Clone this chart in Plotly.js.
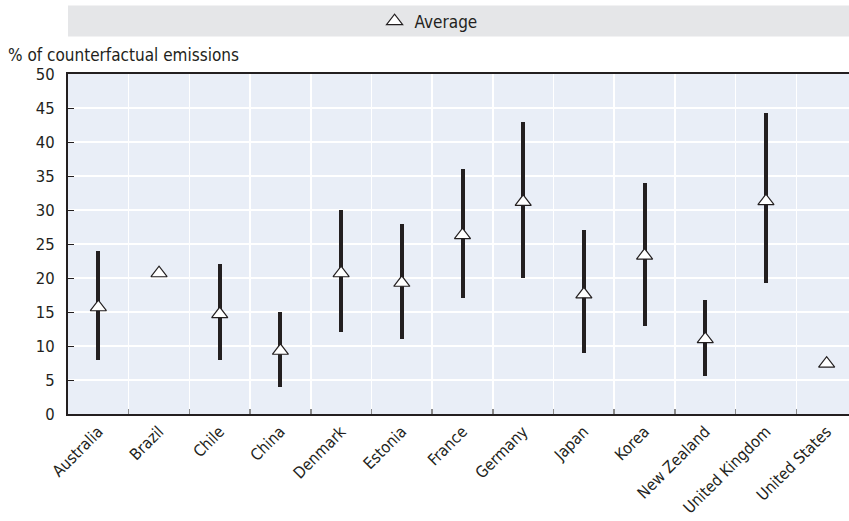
<!DOCTYPE html>
<html>
<head>
<meta charset="utf-8">
<script src="https://cdn.plot.ly/plotly-3.0.1.min.js"></script>
<style>
  html, body { margin: 0; padding: 0; overflow: hidden; background: #ffffff; }
  #chart { width: 857px; height: 521px; }
  /* narrow lettering for every chart label */
  text { font-stretch: condensed; }
</style>
</head>
<body>
<div id="chart"></div>
<script>
// Countries on the horizontal axis
const countries = ["Australia", "Brazil", "Chile", "China", "Denmark", "Estonia", "France",
  "Germany", "Japan", "Korea", "New Zealand", "United Kingdom", "United States"];

// Average abatement, % of counterfactual emissions
const average = [15.7, 20.7, 14.7, 9.3, 20.7, 19.3, 26.3, 31.2, 17.6, 23.3, 11.0, 31.3, 7.4];

// Range of estimates (null where only the average is available)
const rangeLow  = [8, null, 8, 4, 12, 11, 17, 20, 9, 13, 5.6, 19.2, null];
const rangeHigh = [24, null, 22, 15, 30, 28, 36, 43, 27, 34, 16.8, 44.2, null];

// Y-axis ticks
const yTicks = [0, 5, 10, 15, 20, 25, 30, 35, 40, 45, 50];

const ink = "#231f20";
const fontFamily = "'DejaVu Sans Condensed', 'Liberation Sans Narrow', 'DejaVu Sans', sans-serif";

// Range bars: floating bars from low to high
const rangeTrace = {
  type: "bar",
  x: countries,
  base: rangeLow,
  y: rangeHigh.map((h, i) => (h === null || rangeLow[i] === null) ? null : h - rangeLow[i]),
  width: 0.066,
  marker: { color: ink, line: { width: 0 } },
  showlegend: false,
  hoverinfo: "skip"
};

// Average markers
const avgTrace = {
  type: "scatter",
  mode: "markers",
  name: "Average",
  x: countries,
  y: average,
  marker: {
    symbol: "triangle-up",
    size: 14,
    color: "#ffffff",
    line: { color: ink, width: 1.2 }
  },
  cliponaxis: false
};

const layout = {
  width: 857,
  height: 521,
  margin: { l: 68, r: 0, t: 73.5, b: 107 },
  paper_bgcolor: "#ffffff",
  plot_bgcolor: "#e9eef7",
  font: { family: fontFamily, size: 15, color: ink },
  showlegend: true,
  legend: {
    orientation: "h",
    x: 0.457, xanchor: "center",
    y: 1.154, yanchor: "middle",
    bgcolor: "rgba(0,0,0,0)",
    font: { family: fontFamily, size: 17, color: ink },
    itemwidth: 30
  },
  xaxis: {
    type: "category",
    categoryorder: "array",
    categoryarray: countries,
    range: [-0.5, 12.5],
    tickson: "boundaries",
    ticks: "inside",
    ticklen: 5,
    tickwidth: 1.5,
    tickcolor: "#8a8a8a",
    showgrid: true,
    gridcolor: "#ffffff",
    gridwidth: 1.5,
    showline: true,
    linecolor: ink,
    linewidth: 2,
    mirror: true,
    tickangle: -45,
    tickfont: { family: fontFamily, size: 16, color: ink },
    fixedrange: true
  },
  yaxis: {
    range: [0, 50],
    tickvals: yTicks,
    ticktext: yTicks.map(String),
    ticks: "inside",
    ticklen: 6,
    tickwidth: 1,
    tickcolor: ink,
    showgrid: true,
    gridcolor: "#ffffff",
    gridwidth: 1.5,
    zeroline: false,
    showline: true,
    linecolor: ink,
    linewidth: 2,
    mirror: true,
    ticklabelstandoff: 8,
    tickfont: { family: fontFamily, size: 16.5, color: ink },
    fixedrange: true
  },
  shapes: [
    {
      type: "rect",
      xref: "paper", yref: "paper",
      x0: 0, x1: 1.2,
      y0: 1.110, y1: 1.2012,
      fillcolor: "#e5e6e8",
      line: { width: 0 },
      layer: "below"
    }
  ],
  annotations: [
    {
      text: "% of counterfactual emissions",
      xref: "paper", yref: "paper",
      x: -0.078, xanchor: "left",
      y: 1.056, yanchor: "middle",
      showarrow: false,
      font: { family: fontFamily, size: 17, color: ink }
    }
  ],
  bargap: 0
};

Plotly.newPlot("chart", [rangeTrace, avgTrace], layout, { displayModeBar: false, staticPlot: true });
</script>
</body>
</html>
